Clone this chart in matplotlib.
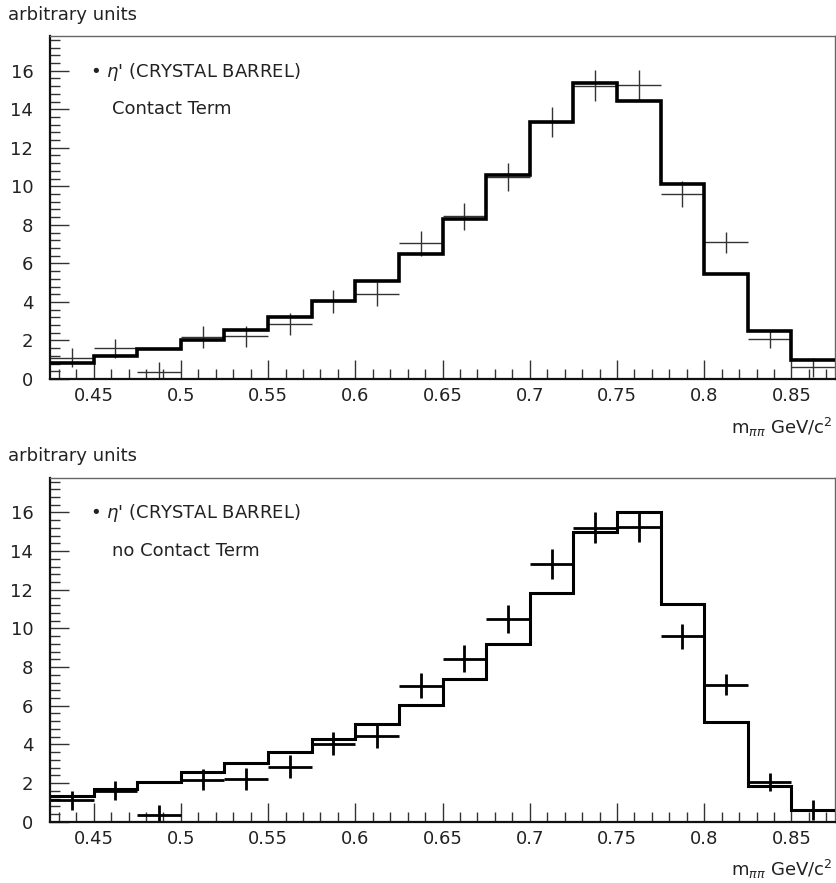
import numpy as np
import matplotlib
matplotlib.use("Agg")
import matplotlib.pyplot as plt
from matplotlib.ticker import MultipleLocator

plt.rcParams['font.family'] = ['DejaVu Sans']

# bin edges (GeV/c^2)
edges = np.round(np.arange(0.425, 0.8751, 0.025), 4)
centers = (edges[:-1] + edges[1:]) / 2

# Crystal Barrel eta' data
data_y = [1.1, 1.6, 0.37, 2.18, 2.21, 2.85, 4.04, 4.42, 7.04, 8.44, 10.47, 13.34,
          15.22, 15.26, 9.6, 7.09, 2.06, 0.61]
data_err = [0.5, 0.5, 0.5, 0.55, 0.55, 0.58, 0.6, 0.62, 0.65, 0.7, 0.73, 0.78,
            0.8, 0.8, 0.65, 0.55, 0.45, 0.5]

# model with contact term
fit_contact = [0.83, 1.18, 1.56, 2.0, 2.53, 3.2, 4.03, 5.07, 6.49, 8.3, 10.6, 13.34,
               15.36, 14.45, 10.14, 5.47, 2.47, 0.97]
# model without contact term
fit_nocontact = [1.33, 1.68, 2.08, 2.56, 3.03, 3.62, 4.27, 5.05, 6.04, 7.39, 9.22, 11.83,
                 14.97, 16.04, 11.28, 5.14, 1.87, 0.61]

xticks = [0.45, 0.5, 0.55, 0.6, 0.65, 0.7, 0.75, 0.8, 0.85]
xticklabels = ["0.45", "0.5", "0.55", "0.6", "0.65", "0.7", "0.75", "0.8", "0.85"]
yticks = [0, 2, 4, 6, 8, 10, 12, 14, 16]

W, H = 836, 883
fig = plt.figure(figsize=(W / 100, H / 100), dpi=100)

panels = [
    dict(rect=[50 / W, 1 - 379 / H, 785 / W, 343 / H], fit=fit_contact, label="Contact Term",
         hist_lw=2.6, err_lw=1.0, err_color="#333333", title_y=15, ),
    dict(rect=[50 / W, 1 - 821.7 / H, 785 / W, 344 / H], fit=fit_nocontact, label="no Contact Term",
         hist_lw=2.2, err_lw=2.0, err_color="black", title_y=456),
]

fs = 13
for p in panels:
    ax = fig.add_axes(p["rect"])
    ax.stairs(p["fit"], edges, baseline=None, color="black", lw=p["hist_lw"], zorder=3)
    ax.errorbar(centers, data_y, xerr=0.0125, yerr=data_err, fmt="none",
                ecolor=p["err_color"], elinewidth=p["err_lw"], capsize=0, zorder=2)
    ax.set_xlim(0.425, 0.875)
    ax.set_ylim(0, 17.8)
    ax.set_xticks(xticks)
    ax.set_xticklabels(xticklabels, fontsize=fs, color="#222222")
    ax.set_yticks(yticks)
    ax.set_yticklabels([str(v) for v in yticks], fontsize=fs, color="#222222")
    ax.xaxis.set_minor_locator(MultipleLocator(0.01))
    ax.yaxis.set_minor_locator(MultipleLocator(0.4))
    ax.tick_params(which="major", direction="in", length=14, width=1.0, color="#333333")
    ax.tick_params(which="minor", direction="in", length=7, width=1.0, color="#333333")
    ax.tick_params(axis="x", which="major", pad=6)
    ax.tick_params(axis="y", which="major", pad=12)
    ax.tick_params(top=False, right=False, which="both")
    for s in ["top", "right"]:
        ax.spines[s].set_linewidth(1.0)
        ax.spines[s].set_color("#666666")
    for s in ["left", "bottom"]:
        ax.spines[s].set_linewidth(1.6)
        ax.spines[s].set_color("#111111")

    ytr = ax.get_yaxis_transform()
    ax.text(0.051, 15.95, "• $\\eta$' (CRYSTAL BARREL)", fontsize=fs, va="center", ha="left",
            color="#222222", transform=ytr)
    ax.text(0.079, 14.0, p["label"], fontsize=fs, va="center", ha="left", color="#222222",
            transform=ytr)
    ax.text(0.996, -0.14, "m$_{\\pi\\pi}$ GeV/c$^2$", fontsize=fs, va="center", ha="right",
            color="#222222", transform=ax.transAxes)
    fig.text(8 / W, 1 - p["title_y"] / H, "arbitrary units", fontsize=fs, va="center",
             ha="left", color="#222222")

fig.savefig("out.png", dpi=100)
